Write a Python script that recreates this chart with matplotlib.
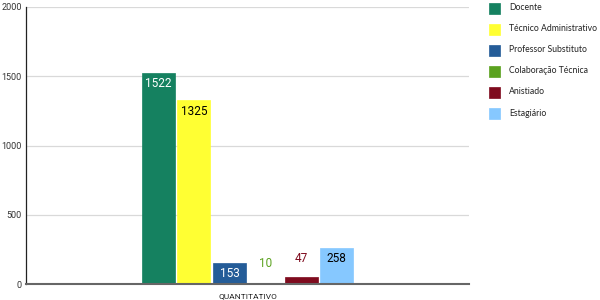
import matplotlib
matplotlib.use("Agg")
import matplotlib.pyplot as plt
import numpy as np
from matplotlib.patches import Rectangle

categories = ["Docente", "Técnico Administrativo", "Professor Substituto",
              "Colaboração Técnica", "Anistiado", "Estagiário"]
values = [1522, 1325, 153, 10, 47, 258]
colors = ["#158160", "#FFFF33", "#245C98", "#5BA21F", "#7F0B1E", "#86C8FF"]
label_colors = ["white", "black", "white", "#5BA21F", "#7F0B1E", "black"]
inside = [True, True, True, False, False, True]
x_label = "QUANTITATIVO"
yticks = [0, 500, 1000, 1500, 2000]

plt.rcParams['font.family'] = ['Roboto', 'DejaVu Sans']

W, H = 600, 300
fig = plt.figure(figsize=(6, 3), dpi=100)
ax = fig.add_axes([26/W, 1-284/H, 443/W, 277/H])

x = np.arange(len(values))
bars = ax.bar(x, values, width=0.925, color=colors, edgecolor=colors, linewidth=0.5, zorder=3)
ax.set_xlim(2.5 - 6.2, 2.5 + 6.2)
ax.set_ylim(0, 2000)
ax.set_yticks(yticks)
ax.set_yticklabels([str(t) for t in yticks], fontsize=6.5, color="#333333")
ax.tick_params(axis='y', length=0, pad=3)
ax.set_xticks([])
ax.grid(axis='y', color="#d9d9d9", linewidth=0.9, zorder=0)
for s in ["top", "right"]:
    ax.spines[s].set_visible(False)
ax.spines["left"].set_color("#222222")
ax.spines["left"].set_linewidth(0.9)
ax.spines["bottom"].set_color("#666666")
ax.spines["bottom"].set_linewidth(1.5)
ax.spines["bottom"].set_zorder(4)

for xi, v, lc, ins in zip(x, values, label_colors, inside):
    if ins:
        ax.annotate(str(v), (xi, v), xytext=(0, -3), textcoords="offset points",
                    ha="center", va="top", fontsize=8.5, color=lc, zorder=5)
    else:
        ax.annotate(str(v), (xi, v), xytext=(0, 9), textcoords="offset points",
                    ha="center", va="bottom", fontsize=8.5, color=lc, zorder=5)

fig.text(248/W, 1 - 296/H, x_label, ha="center", va="center",
         fontsize=6, color="#222222")

# manual legend
for i, (cat, c) in enumerate(zip(categories, colors)):
    yc = 7.5 + i * 21.1
    fig.add_artist(Rectangle((489/W, 1 - (yc + 6)/H), 11/W, 11/H,
                             facecolor=c, edgecolor=c, linewidth=0.5,
                             transform=fig.transFigure))
    fig.text(509/W, 1 - yc/H, cat, ha="left", va="center", fontsize=6.2,
             family=['Lato', 'DejaVu Sans'], color="#222222")

fig.savefig("out.png", dpi=100)
